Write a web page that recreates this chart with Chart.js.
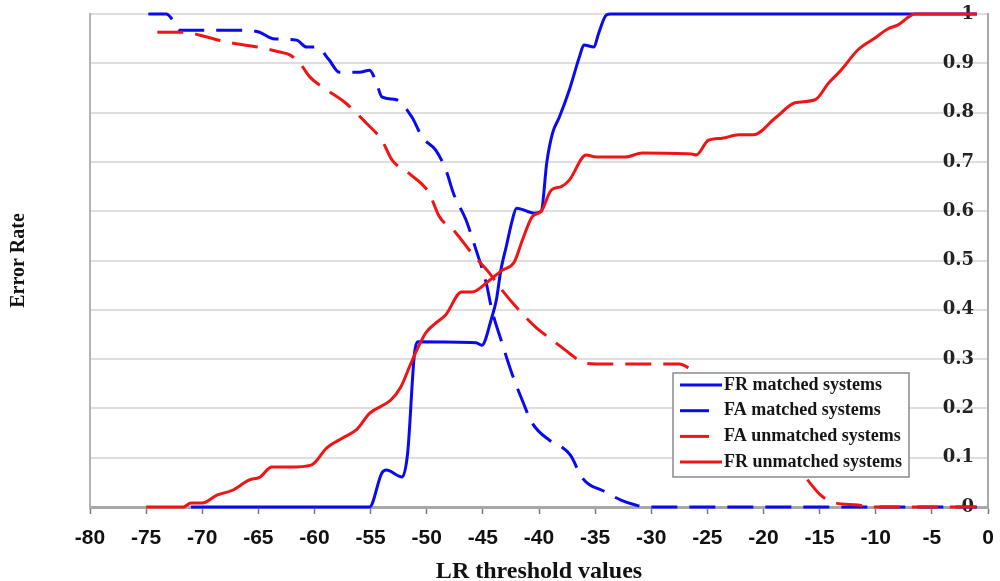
<!DOCTYPE html>
<html><head><meta charset="utf-8">
<script src="https://cdn.jsdelivr.net/npm/chart.js@4/dist/chart.umd.min.js"></script>
<style>html,body{margin:0;padding:0;background:#fff;}#wrap{width:1000px;height:581px;}</style>
</head><body><div id="wrap"><canvas id="c" width="1000" height="581"></canvas></div>
<script>
// ---- data ----
const seriesLabels = ['FR matched systems','FA matched systems','FA unmatched systems','FR unmatched systems'];

const frMatchedX = [-71,-55.1,-54.0,-53.6,-52.2,-51.7,-51.1,-50.8,-45.6,-45.1,-44.2,-43.8,-43.4,-42.9,-42.4,-42.0,-40.4,-39.8,-39.3,-38.8,-38.2,-37.3,-36.4,-36.0,-35.1,-34.7,-34.0,-33.6,-1];
const frMatchedY = [0,0,0.069,0.075,0.061,0.11,0.31,0.335,0.333,0.328,0.385,0.42,0.48,0.53,0.58,0.606,0.596,0.60,0.70,0.758,0.79,0.846,0.913,0.937,0.933,0.96,0.998,1.0,1.0];

const faMatchedX = [-74.8,-73.2,-72.7,-72.0,-66.4,-64.9,-63.7,-61.6,-60.7,-59.8,-58.7,-57.8,-56.0,-55.1,-54.5,-54.0,-52.7,-51.3,-50.4,-49.2,-48.3,-47.6,-46.5,-45.6,-44.7,-44.2,-43.3,-42.4,-41.5,-40.6,-39.1,-38.2,-37.2,-36.2,-35.5,-34.4,-32.7,-31.4,-30.5,-1];
const faMatchedY = [1.0,1.0,0.99,0.967,0.967,0.963,0.95,0.947,0.933,0.933,0.907,0.882,0.882,0.886,0.862,0.832,0.826,0.79,0.75,0.724,0.684,0.635,0.582,0.521,0.454,0.40,0.333,0.27,0.217,0.17,0.136,0.125,0.105,0.061,0.045,0.034,0.014,0.004,0,0];

const faUnmatchedX = [-74,-71.4,-70.2,-67.8,-64.6,-63.1,-62.2,-61.3,-60.4,-58.9,-57.2,-55.4,-54.0,-53.1,-51.6,-49.8,-48.9,-47.4,-46.0,-44.4,-43.3,-41.8,-40.3,-38.5,-37.3,-36.2,-34.9,-27.5,-26.4,-24,-22,-20,-18,-16.3,-14.9,-13.9,-11.6,-10.5,-1];
const faUnmatchedY = [0.963,0.963,0.957,0.943,0.931,0.923,0.917,0.9,0.872,0.846,0.819,0.779,0.744,0.704,0.677,0.637,0.59,0.556,0.515,0.474,0.44,0.40,0.365,0.333,0.312,0.294,0.29,0.29,0.278,0.24,0.2,0.155,0.105,0.061,0.024,0.01,0.004,0,0];

const frUnmatchedX = [-75,-71.7,-71,-70,-68.7,-67.3,-65.8,-64.9,-63.8,-62.2,-60.3,-58.9,-57.5,-56.2,-55.1,-53.2,-52.3,-51.4,-50.1,-49.2,-48.3,-46.9,-46.0,-44.4,-43.3,-42.2,-41.5,-40.6,-39.8,-38.9,-38.0,-37.3,-35.8,-34.9,-32.3,-30.8,-26.4,-26.0,-24.9,-23.7,-22.2,-20.9,-18.9,-17.2,-15.4,-14.2,-13.1,-11.6,-10.1,-8.9,-8.0,-6.5,-1];
const frUnmatchedY = [0,0,0.008,0.008,0.024,0.034,0.055,0.06,0.081,0.081,0.085,0.12,0.14,0.158,0.19,0.217,0.244,0.292,0.353,0.373,0.39,0.436,0.436,0.46,0.48,0.497,0.54,0.589,0.60,0.643,0.65,0.663,0.714,0.71,0.71,0.718,0.716,0.714,0.744,0.748,0.755,0.755,0.79,0.82,0.826,0.86,0.886,0.927,0.951,0.97,0.978,1.0,1.0];

const xTickMin = -80, xTickMax = 0, xTickStep = 5;
const yTickMin = 0, yTickMax = 1, yTickStep = 0.1;

// ---- helpers ----
function pts(xs, ys){ return xs.map((x,i)=>({x:x, y:ys[i]})); }
const BLUE = '#0a0af0', RED = '#f01414';
const DASH = [26, 12];

function ds(label, xs, ys, color, dash, order){
  return {label:label, data:pts(xs,ys), borderColor:color, backgroundColor:color,
    borderWidth:3, borderDash:dash, pointRadius:0, fill:false, clip:false,
    cubicInterpolationMode:'monotone', xAxisID:'x', yAxisID:'y', order:order};
}

const insideLegend = {
  id:'insideLegend',
  afterDraw(chart, args, o){
    const ctx = chart.ctx;
    ctx.save();
    ctx.fillStyle = '#fff';
    ctx.fillRect(o.x, o.y, o.w, o.h);
    ctx.strokeStyle = '#8a8a8a'; ctx.lineWidth = 1.5; ctx.setLineDash([]);
    ctx.strokeRect(o.x, o.y, o.w, o.h);
    chart.data.datasets.forEach((d,i)=>{
      const ry = o.firstRow + i*o.rowH;
      const dashed = d.borderDash && d.borderDash.length;
      ctx.beginPath();
      ctx.setLineDash([]);
      ctx.strokeStyle = d.borderColor; ctx.lineWidth = 3;
      ctx.moveTo(o.lineX, ry); ctx.lineTo(o.lineX + (dashed ? o.dashLen : o.solidLen), ry);
      ctx.stroke();
      ctx.fillStyle = '#151515';
      ctx.font = o.font;
      ctx.textBaseline = 'middle'; ctx.textAlign = 'left';
      ctx.fillText(d.label, o.textX, ry);
    });
    ctx.restore();
  }
};

new Chart(document.getElementById('c'), {
  type:'line',
  data:{ datasets:[
    ds(seriesLabels[0], frMatchedX, frMatchedY, BLUE, [], 3),
    ds(seriesLabels[1], faMatchedX, faMatchedY, BLUE, DASH, 2),
    ds(seriesLabels[2], faUnmatchedX, faUnmatchedY, RED, DASH, 1),
    ds(seriesLabels[3], frUnmatchedX, frUnmatchedY, RED, [], 0)
  ]},
  options:{
    responsive:false, animation:false, events:[],
    layout:{padding:{left:0, right:12, top:14, bottom:0}},
    plugins:{
      legend:{display:false}, tooltip:{enabled:false},
      insideLegend:{x:673, y:373, w:236, h:104, firstRow:385, rowH:25.7,
        lineX:680, solidLen:42, dashLen:29, textX:724,
        font:'bold 18px "Liberation Serif", serif'}
    },
    elements:{line:{tension:0.3}},
    scales:{
      x:{type:'linear', position:'bottom', min:xTickMin, max:xTickMax,
        ticks:{stepSize:xTickStep, autoSkip:false, maxRotation:0, padding:12,
          color:'#111', font:{family:'"Liberation Sans", Arial, sans-serif', weight:'bold', size:21}},
        grid:{drawOnChartArea:false, drawTicks:true, tickLength:7, tickColor:'#7a7a7a', tickWidth:1.5},
        border:{color:'#a8a8a8', width:3},
        title:{display:true, text:'LR threshold values', color:'#111',
          font:{family:'"Liberation Serif", serif', weight:'bold', size:24},
          padding:{top:-5.6, bottom:-5.4}},
        afterFit(s){ s.paddingRight = 6; }
      },
      y:{type:'linear', position:'right', min:yTickMin, max:yTickMax,
        ticks:{display:false, stepSize:yTickStep},
        grid:{color:'#dedede', lineWidth:2, drawTicks:false},
        border:{display:true, color:'#a8a8a8', width:2},
        afterFit(s){ s.width = 0; }
      },
      yLab:{type:'linear', position:'right', min:yTickMin, max:yTickMax, z:1,
        ticks:{stepSize:yTickStep, mirror:true, padding:-14, color:'#222',
          font:{family:'"DejaVu Serif", serif', weight:'bold', size:18},
          callback:(v)=>String(Math.round(v*10)/10)},
        grid:{display:false, drawTicks:false},
        border:{display:false},
        afterFit(s){ s.width = 0; }
      },
      yL:{type:'linear', position:'left', min:yTickMin, max:yTickMax,
        ticks:{display:false},
        grid:{drawOnChartArea:false, drawTicks:false},
        border:{display:true, color:'#b4b4b4', width:2},
        title:{display:true, text:'Error Rate', color:'#111',
          font:{family:'"Liberation Serif", serif', weight:'bold', size:20},
          padding:{top:7, bottom:59}}
      }
    }
  },
  plugins:[insideLegend]
});
</script>
</body></html>
